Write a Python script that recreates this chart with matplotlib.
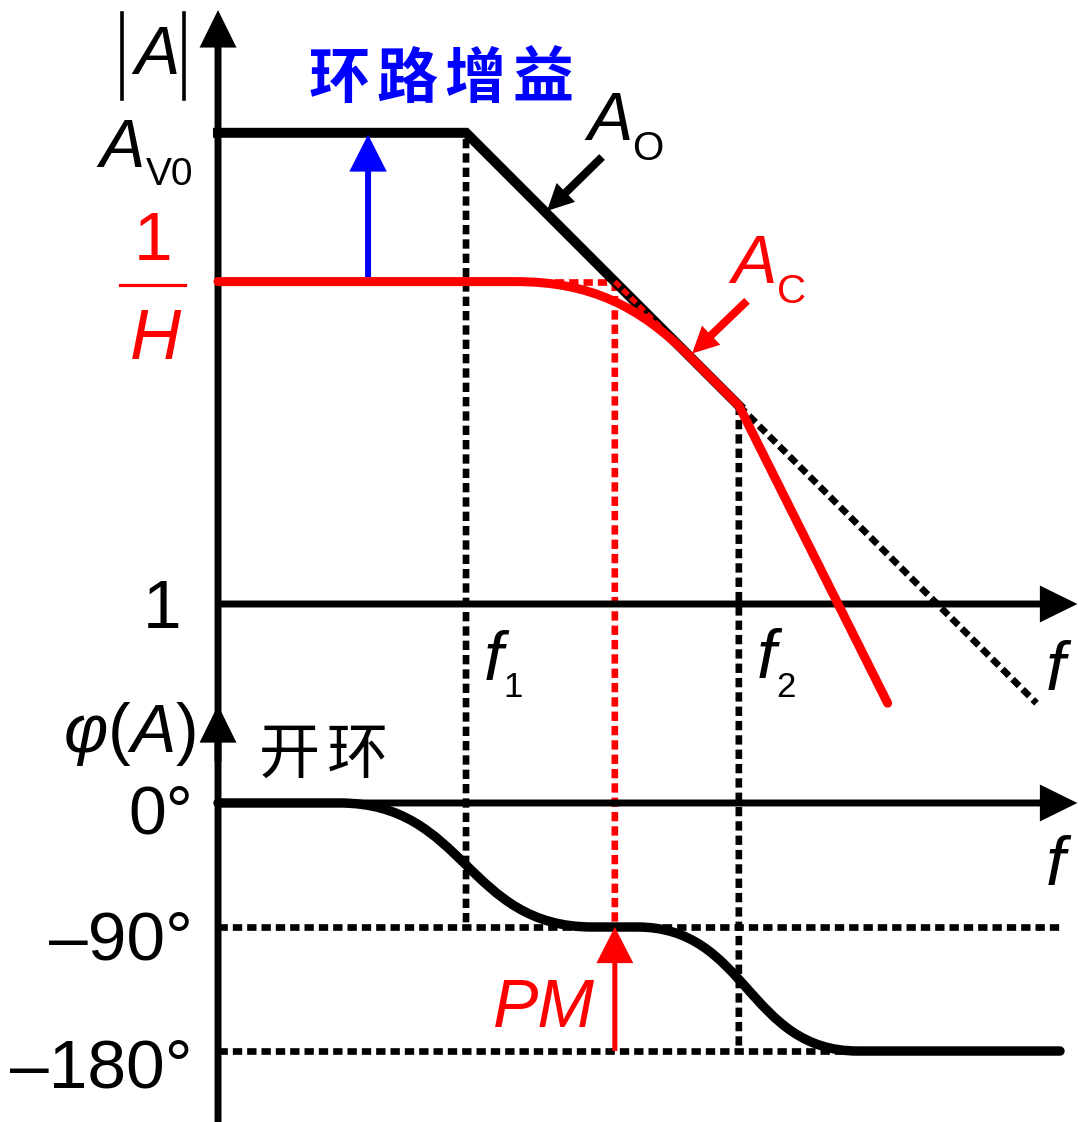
import matplotlib
matplotlib.use("Agg")
import matplotlib.pyplot as plt
from matplotlib.path import Path
from matplotlib.patches import PathPatch, ConnectionPatch
from matplotlib.lines import Line2D

plt.rcParams['mathtext.fontset'] = 'custom'
plt.rcParams['mathtext.rm'] = 'Liberation Sans'
plt.rcParams['mathtext.it'] = 'Liberation Sans:italic'

# x: log10(f) in decades from the y axis, gain in dB, phase in degrees
f1 = 2.0
f2 = 4.2
f_cross = 3.2          # where the open loop gain meets 1/H
f_end = 6.93
av0_db = 76
inv_h_db = 52

ao_x = [0, f1, f2]
ao_db = [76, 76, 32]
ao_ext_x = [f2, 6.6]
ao_ext_db = [32, -16]

ac_x = [0, 2.4, 3.0, 3.4, 3.8, f2, 5.4]
ac_db = [52, 52, 52, 48, 40, 32, -16]

ph_x = [0, 0.98, 2.0, 2.0, 3.02, 3.38, 4.27, 4.27, 5.16, 6.79]
ph_deg = [0, 0, 0, -90, -90, -90, -90, -180, -180, -180]

deg_ticks = [0, -90, -180]
deg_labels = ['0°', '–90°', '–180°']

W, H = 1078, 1122
LAT = 'Liberation Sans'
CJK = ['Noto Sans CJK SC', 'DejaVu Sans']

fig = plt.figure(figsize=(W / 100, H / 100), dpi=100)
ax = fig.add_axes([0, 0, 1, 1])
ax.set_xlim(-1.758, 6.935)
ax.set_ylim(-83.55, 97.42)
ax.axis('off')
axp = fig.add_axes([0, 0, 1, 1])     # phase scale, same box
axp.set_xlim(-1.758, 6.935)
axp.set_ylim(-231.5, 582.7)
axp.axis('off')
PT = axp.transData

def arrow(tail, tip, color, hl, hw, tw, tr=None, z=5):
    tr = ax.transData if tr is None else tr
    ax.annotate('', xy=tip, xycoords=tr, xytext=tail, textcoords=tr, zorder=z,
                arrowprops=dict(arrowstyle='simple,head_length=%g,head_width=%g,tail_width=%g' % (hl, hw, tw),
                                mutation_scale=10, fc=color, lw=0, shrinkA=0, shrinkB=0))

def bez(xs, ys, codes, tr, color, lw, z):
    p = Path(list(zip(xs, ys)), codes)
    ax.add_patch(PathPatch(p, fill=False, ec=color, lw=lw, capstyle='round', joinstyle='round',
                           transform=tr, zorder=z))

DLW = 4.8
DLS = (0, (1.4, 0.75))

def vdash(xa, ya, tra, xb, yb, trb, color, z):
    ax.add_artist(ConnectionPatch((xa, ya), (xb, yb), coordsA=tra, coordsB=trb, color=color,
                                  lw=DLW, ls=DLS, capstyle='butt', zorder=z))

dash = dict(lw=DLW, ls=DLS)

# axes
arrow((0, -83.55), (0, 95.8), 'black', 2.7, 2.66, 0.5)
arrow((0, 30), (0, 71), 'black', 2.7, 2.66, 0.5, tr=PT)
arrow((0, 0), (f_end, 0), 'black', 2.7, 2.66, 0.5)
arrow((0, 0), (f_end, 0), 'black', 2.7, 2.66, 0.5, tr=PT)

# dashed guides
vdash(f1, 75, ax.transData, f1, -90, PT, 'black', 2)
vdash(f2, 32, ax.transData, f2, -180, PT, 'black', 2)
ax.plot([0, 6.79], [-90, -90], color='black', transform=PT, zorder=2, **dash)
ax.plot([0, 6.79], [-180, -180], color='black', transform=PT, zorder=2, **dash)
ax.plot(ao_ext_x, ao_ext_db, color='black', zorder=2, **dash)
vdash(f_cross, inv_h_db, ax.transData, f_cross, -90, PT, 'red', 3)
ax.plot([2.6, f_cross], [inv_h_db, inv_h_db], color='red', zorder=3, **dash)

# open loop gain A_O
ax.plot(ao_x, ao_db, color='black', lw=7.2, solid_joinstyle='miter', zorder=4)
ax.plot([f_cross, 3.6], [inv_h_db, 44], color='red', zorder=4.5, lw=3.8, ls=DLS)

# closed loop gain A_C
bez(ac_x, ac_db, [Path.MOVETO, Path.LINETO, Path.CURVE4, Path.CURVE4, Path.CURVE4, Path.LINETO, Path.LINETO],
    ax.transData, 'red', 6.5, 6)

# open loop phase
bez(ph_x, ph_deg, [Path.MOVETO, Path.LINETO, Path.CURVE4, Path.CURVE4, Path.CURVE4, Path.LINETO,
                   Path.CURVE4, Path.CURVE4, Path.CURVE4, Path.LINETO], PT, 'black', 6.8, 6)

# loop gain arrow, pointers, PM
arrow((1.21, inv_h_db), (1.21, 75.7), 'blue', 2.66, 2.7, 0.43)
arrow((3.097, 72.1), (2.653, 63.4), 'black', 1.9, 1.9, 0.58, z=7)
arrow((4.266, 48.9), (3.823, 40.4), 'red', 1.9, 1.9, 0.58, z=7)
arrow((f_cross, -180), (f_cross, -90), 'red', 2.6, 2.66, 0.36, tr=PT, z=7)

def put(x, y, s, size, color='black', style='normal', ha='left', family=LAT, weight='normal'):
    fig.text(x / W, 1 - y / H, s, fontsize=size, color=color, style=style, ha=ha, va='baseline',
             family=family, weight=weight)

# |A| : bars as thin strokes around the italic A
for bx in (122, 184):
    fig.add_artist(Line2D([bx / W] * 2, [1 - 13 / H, 1 - 99 / H], color='black', lw=2.6))
put(134, 74, 'A', 49, style='italic')
put(99, 167, 'A', 49, style='italic')
put(146, 185, 'V0', 28)
put(153, 260, '1', 50, color='red', ha='center')
fig.add_artist(Line2D([120 / W, 185 / W], [1 - 285 / H] * 2, color='red', lw=2.3))
put(155, 359, 'H', 51, color='red', style='italic', ha='center')
put(162, 628, '1', 50, ha='center')
put(587, 140, 'A', 49, style='italic')
put(632, 160, 'O', 29)
put(731, 283, 'A', 49, color='red', style='italic')
put(777, 303, 'C', 29, color='red')
put(484, 680, 'f', 50, style='italic')
put(503, 697, '1', 25)
put(757, 678, 'f', 50, style='italic')
put(776, 697, '2', 25)
put(1046, 690, 'f', 50, style='italic')
put(1046, 885, 'f', 50, style='italic')
put(493, 1027, 'PM', 49, color='red', style='italic')
put(196, 752, '$φ(A)$', 49, ha='right')
for d, lab, yb in zip(deg_ticks, deg_labels, [833, 960, 1087]):
    put(193, yb, lab, 49 if d == 0 else 50, ha='right')
for i, ch in enumerate('环路增益'):
    put(339 + 68 * i, 98, ch, 44, color='blue', ha='center', family=CJK, weight='bold')
for i, ch in enumerate('开环'):
    put(289 + 68 * i, 773, ch, 44, ha='center', family=CJK, weight='light')

fig.savefig('out.png', dpi=100)
